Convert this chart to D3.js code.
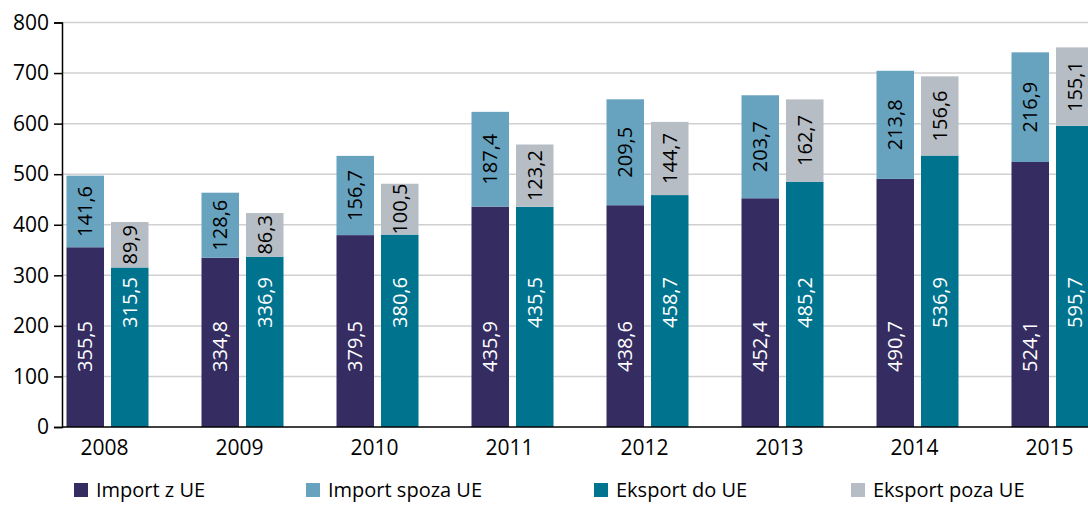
<!DOCTYPE html>
<html>
<head>
<meta charset="utf-8">
<script src="https://cdn.jsdelivr.net/npm/d3@7"></script>
<style>
  html, body { margin: 0; padding: 0; background: #fff; overflow: hidden; }
  text { font-family: "Open Sans", "Noto Sans", sans-serif; }
</style>
</head>
<body>
<div id="chart"></div>
<script>
const years = ['2008', '2009', '2010', '2011', '2012', '2013', '2014', '2015'];
const importUE = [355.5, 334.8, 379.5, 435.9, 438.6, 452.4, 490.7, 524.1];
const importSpoza = [141.6, 128.6, 156.7, 187.4, 209.5, 203.7, 213.8, 216.9];
const eksportUE = [315.5, 336.9, 380.6, 435.5, 458.7, 485.2, 536.9, 595.7];
const eksportPoza = [89.9, 86.3, 100.5, 123.2, 144.7, 162.7, 156.6, 155.1];
const yTicks = [0, 100, 200, 300, 400, 500, 600, 700, 800];
const seriesNames = ['Import z UE', 'Import spoza UE', 'Eksport do UE', 'Eksport poza UE'];
const colors = ['#352c62', '#67a3bf', '#00748f', '#b7bdc4'];

const width = 1088, height = 508;
const axisX = 62, baseY = 427, topY = 22.5;

const svg = d3.select('#chart').append('svg')
  .attr('width', width)
  .attr('height', height);

const y = d3.scaleLinear().domain([0, 800]).range([baseY, topY]);

// year bands (the chart is cut on the right like the source)
const x0 = d3.scaleBand().domain(years).range([40, 40 + 135 * years.length]).padding(0);
const x1 = d3.scaleBand().domain(['imp', 'exp'])
  .range([x0.bandwidth() / 2 - 41, x0.bandwidth() / 2 + 41])
  .paddingInner(0.157).paddingOuter(0);

// gridlines
svg.append('g')
  .selectAll('line')
  .data(yTicks.filter(d => d > 0))
  .enter().append('line')
  .attr('x1', axisX).attr('x2', width)
  .attr('y1', d => y(d)).attr('y2', d => y(d))
  .style('stroke', '#d0d0d0')
  .style('stroke-width', 1.5);

const fmt = v => v.toFixed(1).replace('.', ',');

const stacks = [
  { key: 'imp', base: importUE, top: importSpoza, cb: colors[0], ct: colors[1], labelOff: 80.5 },
  { key: 'exp', base: eksportUE, top: eksportPoza, cb: colors[2], ct: colors[3], labelOff: 124.5 }
];

const bars = svg.append('g');
stacks.forEach(s => {
  years.forEach((yr, i) => {
    const bx = x0(yr) + x1(s.key);
    const bw = x1.bandwidth();
    const b = s.base[i], t = s.top[i];
    bars.append('rect')
      .attr('x', bx).attr('y', y(b))
      .attr('width', bw).attr('height', y(0) - y(b))
      .style('fill', s.cb);
    bars.append('rect')
      .attr('x', bx).attr('y', y(b + t))
      .attr('width', bw).attr('height', y(b) - y(b + t))
      .style('fill', s.ct);

    const cx = bx + bw / 2;
    // bottom segment label, fixed height like in the source
    bars.append('text')
      .attr('transform', `translate(${cx},${baseY - s.labelOff}) rotate(-90)`)
      .attr('dy', '0.36em')
      .style('text-anchor', 'middle')
      .style('font-size', '20px')
      .style('fill', '#fff')
      .text(fmt(b));
    // top segment label, centred
    bars.append('text')
      .attr('transform', `translate(${cx},${(y(b) + y(b + t)) / 2}) rotate(-90)`)
      .attr('dy', '0.36em')
      .style('text-anchor', 'middle')
      .style('font-size', '20px')
      .style('fill', '#000')
      .text(fmt(t));
  });
});

// y axis
const yAxis = d3.axisLeft(y).tickValues(yTicks).tickSize(8).tickPadding(5);
const gy = svg.append('g')
  .attr('transform', `translate(${axisX},0)`)
  .call(yAxis);
gy.select('.domain').style('stroke', '#000').style('stroke-width', 1.5);
gy.selectAll('.tick line').style('stroke', '#000').style('stroke-width', 1.5);
gy.selectAll('.tick text')
  .style('font-size', '21px')
  .style('fill', '#000')
  .style('font-family', '"Open Sans", sans-serif');

// x axis line
svg.append('line')
  .attr('x1', axisX).attr('x2', width)
  .attr('y1', baseY).attr('y2', baseY)
  .style('stroke', '#000')
  .style('stroke-width', 1.5);

// year labels
svg.append('g')
  .selectAll('text')
  .data(years)
  .enter().append('text')
  .attr('x', d => x0(d) + x0.bandwidth() / 2 - 3)
  .attr('y', baseY + 20)
  .attr('dy', '0.36em')
  .style('text-anchor', 'middle')
  .style('font-size', '21px')
  .style('fill', '#000')
  .text(d => d);

// legend
const legendX = [74, 306, 594, 851];
const legend = svg.append('g');
seriesNames.forEach((name, i) => {
  legend.append('rect')
    .attr('x', legendX[i]).attr('y', 483)
    .attr('width', 14).attr('height', 14)
    .style('fill', colors[i]);
  legend.append('text')
    .attr('x', legendX[i] + 22).attr('y', 490)
    .attr('dy', '0.36em')
    .style('font-size', '20px')
    .style('fill', '#000')
    .text(name);
});
</script>
</body>
</html>
